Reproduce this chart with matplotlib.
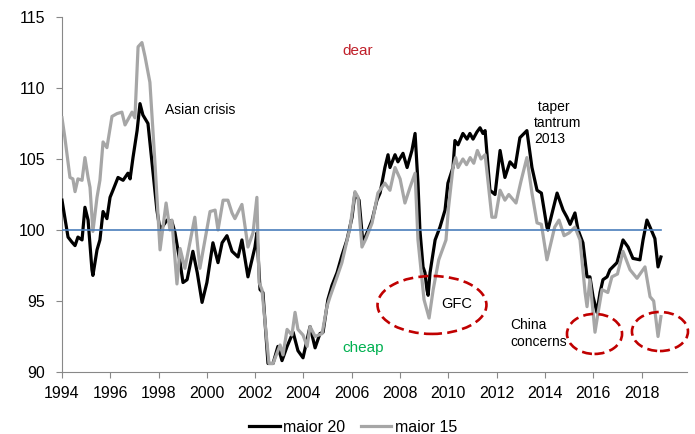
import matplotlib
matplotlib.use("Agg")
import matplotlib.pyplot as plt
from matplotlib.patches import Ellipse

plt.rcParams["font.family"] = ["Liberation Sans", "DejaVu Sans"]

# maior 20 (black), decimal years / index level
m20_x = [1994.00, 1994.25, 1994.41, 1994.54, 1994.66, 1994.83, 1994.95, 1995.08, 1995.24, 1995.28,
         1995.45, 1995.57, 1995.70, 1995.86, 1995.99, 1996.11, 1996.32, 1996.53, 1996.73, 1996.82,
         1996.94, 1997.11, 1997.23, 1997.35, 1997.56, 1997.73, 1997.93, 1998.06, 1998.35, 1998.55,
         1998.68, 1998.89, 1999.01, 1999.18, 1999.42, 1999.60, 1999.80, 2000.00, 2000.25, 2000.46,
         2000.63, 2000.83, 2001.04, 2001.29, 2001.45, 2001.70, 2001.99, 2002.07, 2002.20, 2002.32,
         2002.53, 2002.74, 2002.94, 2003.11, 2003.32, 2003.57, 2003.77, 2003.98, 2004.27, 2004.48,
         2004.68, 2004.81, 2005.01, 2005.18, 2005.39, 2005.59, 2005.80, 2006.01, 2006.13, 2006.30,
         2006.46, 2006.63, 2006.84, 2007.04, 2007.17, 2007.37, 2007.50, 2007.58, 2007.79, 2007.91,
         2008.12, 2008.29, 2008.49, 2008.62, 2008.74, 2008.82, 2008.95, 2009.03, 2009.11, 2009.16,
         2009.24, 2009.45, 2009.65, 2009.86, 2009.98, 2010.19, 2010.27, 2010.40, 2010.60, 2010.77,
         2010.89, 2011.02, 2011.18, 2011.31, 2011.43, 2011.52, 2011.72, 2011.93, 2012.14, 2012.34,
         2012.55, 2012.76, 2012.96, 2013.25, 2013.46, 2013.67, 2013.85, 2014.08, 2014.12, 2014.50,
         2014.75, 2014.91, 2015.04, 2015.24, 2015.37, 2015.57, 2015.74, 2015.86, 2015.99, 2016.15,
         2016.28, 2016.40, 2016.57, 2016.69, 2016.98, 2017.23, 2017.44, 2017.64, 2017.93, 2018.06,
         2018.22, 2018.35, 2018.55, 2018.68, 2018.80]
m20_y = [102.1, 99.5, 99.15, 98.9, 99.5, 99.3, 101.6, 100.7, 97.2, 96.8,
         98.6, 99.3, 101.3, 100.8, 102.3, 102.8, 103.7, 103.5, 104.0, 103.6,
         105.1, 107.0, 108.9, 108.1, 107.5, 104.7, 101.4, 100.0, 100.7, 100.6,
         99.8, 97.7, 96.3, 96.5, 98.5, 97.0, 94.9, 96.3, 99.1, 97.7,
         99.1, 99.6, 98.5, 98.1, 99.3, 96.7, 98.8, 99.8, 95.8, 95.6,
         90.6, 90.6, 91.8, 90.8, 91.8, 92.8, 91.5, 91.0, 93.2, 91.7,
         92.7, 92.8, 95.1, 96.1, 97.0, 98.2, 99.3, 100.9, 102.6, 102.1,
         99.1, 99.8, 100.7, 102.1, 102.6, 104.4, 105.3, 104.4, 105.3, 104.8,
         105.4, 104.4, 105.6, 106.8, 103.3, 100.0, 97.4, 97.0, 95.8, 95.4,
         97.0, 99.3, 100.2, 101.4, 103.3, 104.4, 106.3, 106.0, 106.8, 106.4,
         106.8, 106.4, 106.9, 107.2, 106.8, 107.0, 102.8, 102.5, 105.6, 103.7,
         104.8, 104.4, 106.5, 107.0, 104.4, 102.8, 102.6, 100.2, 100.0, 102.6,
         101.4, 100.9, 100.4, 101.2, 100.0, 99.1, 96.7, 96.7, 95.3, 94.2,
         95.6, 96.5, 96.7, 97.2, 97.7, 99.3, 98.8, 98.0, 97.9, 99.3,
         100.7, 100.2, 99.4, 97.4, 98.1]

# maior 15 (grey)
m15_x = [1994.00, 1994.12, 1994.33, 1994.45, 1994.54, 1994.66, 1994.83, 1994.95, 1995.08, 1995.16,
         1995.28, 1995.45, 1995.57, 1995.70, 1995.86, 1996.07, 1996.28, 1996.48, 1996.61, 1996.90,
         1997.02, 1997.15, 1997.31, 1997.44, 1997.64, 1997.85, 1998.06, 1998.31, 1998.47, 1998.55,
         1998.76, 1998.89, 1999.09, 1999.50, 1999.71, 2000.13, 2000.34, 2000.46, 2000.67, 2000.87,
         2001.04, 2001.16, 2001.45, 2001.70, 2001.91, 2002.07, 2002.16, 2002.28, 2002.57, 2002.74,
         2003.03, 2003.15, 2003.32, 2003.52, 2003.65, 2003.77, 2003.98, 2004.15, 2004.27, 2004.48,
         2004.77, 2004.97, 2005.10, 2005.39, 2005.59, 2005.93, 2006.13, 2006.26, 2006.42, 2006.59,
         2006.84, 2007.08, 2007.37, 2007.58, 2007.79, 2008.00, 2008.20, 2008.41, 2008.62, 2008.74,
         2008.99, 2009.20, 2009.37, 2009.60, 2009.90, 2010.00, 2010.19, 2010.30, 2010.40, 2010.60,
         2010.75, 2010.90, 2011.05, 2011.20, 2011.35, 2011.52, 2011.80, 2011.95, 2012.14, 2012.34,
         2012.50, 2012.80, 2013.00, 2013.25, 2013.46, 2013.67, 2013.85, 2014.08, 2014.40, 2014.58,
         2014.79, 2015.00, 2015.24, 2015.45, 2015.66, 2015.74, 2015.86, 2016.07, 2016.20, 2016.36,
         2016.60, 2016.77, 2017.00, 2017.23, 2017.52, 2017.81, 2018.14, 2018.35, 2018.50, 2018.68,
         2018.80]
m15_y = [107.9, 106.5, 103.7, 103.6, 102.7, 103.6, 103.5, 105.1, 103.7, 103.0,
         99.9, 102.3, 103.5, 106.2, 105.8, 108.0, 108.2, 108.3, 107.4, 108.3,
         107.9, 112.9, 113.2, 112.2, 110.4, 104.7, 98.6, 101.9, 100.0, 100.7,
         96.2, 98.7, 97.3, 100.9, 97.3, 101.3, 101.4, 100.0, 102.1, 102.1,
         101.2, 100.8, 101.8, 98.8, 99.8, 102.3, 96.3, 95.8, 90.6, 90.6,
         91.9, 91.2, 93.0, 92.6, 94.2, 93.0, 92.6, 91.8, 93.2, 92.5,
         92.7, 94.6, 95.3, 96.7, 97.7, 100.2, 102.7, 102.3, 98.8, 99.4,
         100.5, 102.6, 103.3, 102.8, 104.4, 103.6, 101.9, 103.0, 104.0, 99.3,
         95.1, 93.8, 95.8, 97.9, 99.3, 101.5, 104.4, 105.1, 104.4, 105.0,
         104.6, 105.1, 104.7, 105.6, 105.0, 105.3, 100.9, 100.9, 102.8, 102.1,
         102.5, 101.9, 103.4, 105.1, 102.6, 100.5, 100.4, 97.9, 100.2, 100.7,
         99.6, 99.8, 100.2, 99.3, 95.6, 94.6, 96.5, 92.8, 94.2, 95.8,
         95.6, 96.7, 96.9, 98.5, 97.2, 96.6, 97.4, 95.3, 95.0, 92.5,
         93.9]

par_x = [m20_x[0], m20_x[-1]]
par_y = [100, 100]

x_ticks = list(range(1994, 2019, 2))
y_ticks = [90, 95, 100, 105, 110, 115]

# dashed circles: (centre year, centre level, width yrs, height pts)
circles = [(2009.32, 94.72, 4.51, 4.08),
           (2016.05, 92.68, 2.28, 2.82),
           (2018.76, 92.85, 2.32, 2.75)]

fig = plt.figure(figsize=(6.95, 4.34), dpi=100)
ax = fig.add_axes([0.0892, 0.1429, 0.8993, 0.8179])

ax.plot(m20_x, m20_y, color="black", lw=2.3, label="maior 20", zorder=3)
ax.plot(m15_x, m15_y, color="#A6A6A6", lw=2.3, label="maior 15", zorder=4)
ax.plot(par_x, par_y, color="#4A7EBB", lw=1.2, zorder=5)

for cx, cy, w, h in circles:
    ax.add_patch(Ellipse((cx, cy), w, h, fill=False, edgecolor="#C00000", lw=1.9,
                         linestyle=(0, (3.8, 2.0)), zorder=6, clip_on=False))

ax.text(2006.26, 112.6, "dear", color="#C0202A", fontsize=11, ha="center", va="center")
ax.text(2006.46, 91.7, "cheap", color="#00B050", fontsize=11, ha="center", va="center")
ax.text(1998.27, 108.45, "Asian crisis", fontsize=10, ha="left", va="center")
ax.text(2013.54, 107.54, " taper\ntantrum\n2013", fontsize=10, ha="left", va="center",
        linespacing=1.15)
ax.text(2010.36, 94.79, "GFC", fontsize=10.5, ha="center", va="center", zorder=7)
ax.text(2012.55, 92.71, "China\nconcerns", fontsize=10, ha="left", va="center",
        linespacing=1.2, zorder=7)

ax.set_xlim(1994, 2019.88)
ax.set_ylim(90, 115)
ax.set_xticks(x_ticks)
ax.set_yticks(y_ticks)
ax.tick_params(axis="both", labelsize=11.5, length=4, width=0.8, color="#888888", pad=6)
ax.tick_params(axis="y", pad=8)
for s in ["top", "right"]:
    ax.spines[s].set_visible(False)
for s in ["left", "bottom"]:
    ax.spines[s].set_color("#888888")
    ax.spines[s].set_linewidth(0.8)

h, l = ax.get_legend_handles_labels()
fig.legend(h, l, loc="center", bbox_to_anchor=(0.508, 0.016), ncol=2, frameon=False,
           fontsize=11.5, handlelength=1.9, handletextpad=0.2, columnspacing=1.0,
           borderpad=0, borderaxespad=0)

fig.savefig("out.png", dpi=100)
